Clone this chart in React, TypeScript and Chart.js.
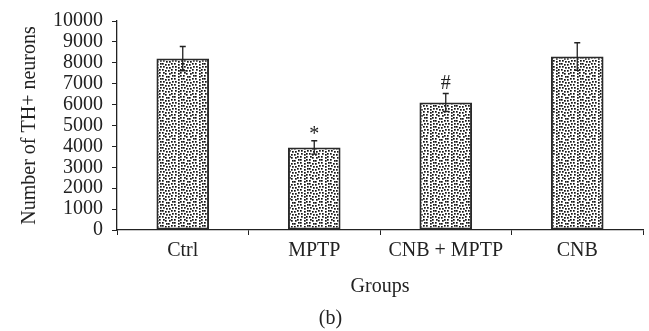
import React, { useEffect, useRef } from "react";
import { Chart, registerables } from "chart.js";

Chart.register(...registerables);

const categories = ["Ctrl", "MPTP", "CNB + MPTP", "CNB"];
const meanValues = [8200, 3950, 6100, 8300];
const errorValues = [580, 320, 430, 660];
const markers = ["", "*", "#", ""];
const yTickStep = 1000;
const yMax = 10000;

const FONT = "'Liberation Serif', 'Times New Roman', serif";

function makePattern(): CanvasPattern | string {
  const c = document.createElement("canvas");
  const size = 21;
  c.width = size;
  c.height = size;
  const ctx = c.getContext("2d");
  if (!ctx) return "#888";
  ctx.fillStyle = "#ffffff";
  ctx.fillRect(0, 0, size, size);
  ctx.fillStyle = "#141414";
  const step = 3;
  for (let i = 0; i < size / step; i++) {
    for (let j = 0; j < size / step; j++) {
      const h = (i * 7 + j * 11 + i * j * 3) % 5;
      const dx = h % 2;
      const dy = ((i * 5 + j * 3) % 3) === 0 ? 1 : 0;
      ctx.fillRect(i * step + dx, j * step + dy, 1.7, 1.7);
    }
  }
  const p = ctx.createPattern(c, "repeat");
  return p || "#888";
}

const errorPlugin = {
  id: "errorBars",
  afterDatasetsDraw(chart: any) {
    const ctx = chart.ctx;
    const meta = chart.getDatasetMeta(0);
    const y = chart.scales.y;
    ctx.save();
    ctx.strokeStyle = "#222";
    ctx.lineWidth = 1.3;
    meta.data.forEach((bar: any, i: number) => {
      const x = bar.x;
      const top = y.getPixelForValue(meanValues[i] + errorValues[i]);
      const bot = y.getPixelForValue(meanValues[i] - errorValues[i]);
      ctx.beginPath();
      ctx.moveTo(x, top);
      ctx.lineTo(x, bot);
      ctx.moveTo(x - 3, top);
      ctx.lineTo(x + 3, top);
      ctx.moveTo(x - 3, bot);
      ctx.lineTo(x + 3, bot);
      ctx.stroke();
      if (markers[i]) {
        ctx.fillStyle = "#222";
        ctx.font = `20px ${FONT}`;
        ctx.textAlign = "center";
        ctx.textBaseline = "middle";
        ctx.fillText(markers[i], x, top - (markers[i] === "*" ? 6 : 10));
      }
    });
    ctx.restore();
  },
};

export default function App() {
  const ref = useRef<HTMLCanvasElement>(null);
  useEffect(() => {
    if (!ref.current) return;
    const pattern = makePattern();
    const chart = new Chart(ref.current, {
      type: "bar",
      data: {
        labels: categories,
        datasets: [
          {
            data: meanValues,
            backgroundColor: pattern as any,
            borderColor: "#2a2a2a",
            borderWidth: 2,
            borderSkipped: false,
            categoryPercentage: 1,
            barPercentage: 0.4,
          },
        ],
      },
      options: {
        animation: false,
        responsive: false,
        maintainAspectRatio: false,
        layout: { padding: { left: 18, right: 6, top: -4, bottom: 0 } },
        plugins: {
          legend: { display: false },
          tooltip: { enabled: false },
          title: {
            display: true,
            text: "(b)",
            position: "bottom",
            color: "#222",
            font: { family: FONT, size: 20, weight: "normal" },
            padding: { top: 8, bottom: 0 },
          },
        },
        scales: {
          x: {
            offset: true,
            grid: {
              display: true,
              offset: true,
              drawOnChartArea: false,
              drawTicks: true,
              tickLength: 5,
              color: "#222",
            },
            border: { display: true, color: "#222", width: 1.3 },
            ticks: {
              color: "#222",
              font: { family: FONT, size: 20 },
              padding: 4,
              maxRotation: 0,
            },
            title: {
              display: true,
              text: "Groups",
              color: "#222",
              font: { family: FONT, size: 20 },
              padding: { top: 8, bottom: 0 },
            },
          },
          y: {
            min: 0,
            max: yMax,
            grid: {
              display: true,
              drawOnChartArea: false,
              drawTicks: true,
              tickLength: 5,
              color: "#222",
            },
            border: { display: true, color: "#222", width: 1.3 },
            ticks: {
              stepSize: yTickStep,
              autoSkip: false,
              color: "#222",
              font: { family: FONT, size: 20 },
              padding: 9,
              callback: (v: any) => String(v),
            },
            title: {
              display: true,
              text: "Number of TH+ neurons",
              color: "#222",
              font: { family: FONT, size: 20 },
              padding: { top: 0, bottom: 2 },
            },
          },
        },
      },
      plugins: [errorPlugin],
    });
    return () => chart.destroy();
  }, []);
  return (
    <div style={{ position: "fixed", left: 0, top: 0, width: 649, height: 331, background: "#fff" }}>
      <canvas ref={ref} width={649} height={331} style={{ width: 649, height: 331 }} />
    </div>
  );
}
